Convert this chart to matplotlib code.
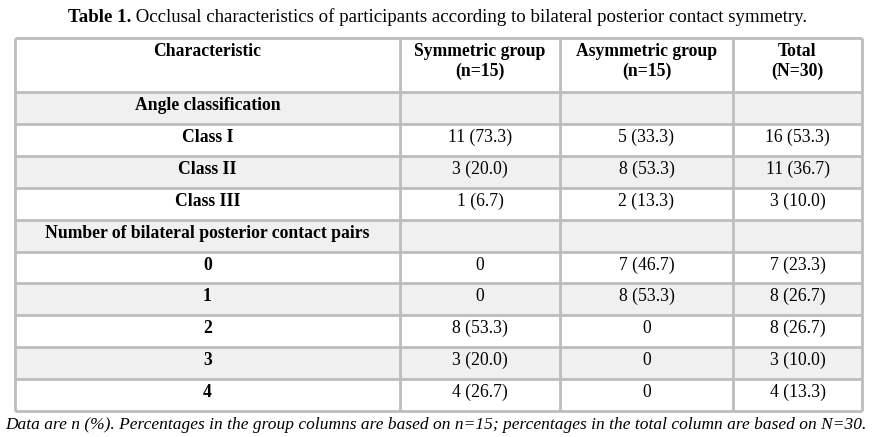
import matplotlib.pyplot as plt
from matplotlib.patches import Rectangle

plt.rcParams['font.family'] = ['Liberation Serif', 'DejaVu Serif']

title_bold = "Table 1."
title_rest = " Occlusal characteristics of participants according to bilateral posterior contact symmetry."
headers = ["Characteristic", "Symmetric group\n(n=15)", "Asymmetric group\n(n=15)", "Total\n(N=30)"]
row_labels = ["Angle classification", "Class I", "Class II", "Class III",
              "Number of bilateral posterior contact pairs", "0", "1", "2", "3", "4"]
symmetric = ["", "11 (73.3)", "3 (20.0)", "1 (6.7)", "", "0", "0", "8 (53.3)", "3 (20.0)", "4 (26.7)"]
asymmetric = ["", "5 (33.3)", "8 (53.3)", "2 (13.3)", "", "7 (46.7)", "8 (53.3)", "0", "0", "0"]
total = ["", "16 (53.3)", "11 (36.7)", "3 (10.0)", "", "7 (23.3)", "8 (26.7)", "8 (26.7)", "3 (10.0)", "4 (13.3)"]
footnote = ("Data are n (%). Percentages in the group columns are based on n=15; "
            "percentages in the total column are based on N=30.")

col_x = [15, 400, 560, 733, 862]
header_top, header_bot = 38, 92
row_h = 31.9
fs = 12.7

fig = plt.figure(figsize=(8.75, 4.37), dpi=100)
ax = fig.add_axes([0, 0, 1, 1])
ax.set_xlim(0, 875)
ax.set_ylim(437, 0)
ax.axis("off")

# row backgrounds (alternating white / light grey)
n = len(row_labels)
for i in range(n):
    y0 = header_bot + i * row_h
    color = "#f0f0f0" if i % 2 == 0 else "white"
    ax.add_patch(Rectangle((col_x[0], y0), col_x[-1] - col_x[0], row_h, facecolor=color, edgecolor="none"))

bottom = header_bot + n * row_h
lc = "#bdbdbd"
for y in [header_top, header_bot] + [header_bot + i * row_h for i in range(1, n + 1)]:
    ax.plot([col_x[0], col_x[-1]], [y, y], color=lc, lw=2, solid_capstyle="butt")
for x in col_x:
    ax.plot([x, x], [header_top, bottom], color=lc, lw=2, solid_capstyle="butt")

centers = [(col_x[i] + col_x[i + 1]) / 2 for i in range(4)]
for c, h in zip(centers, headers):
    for k, line in enumerate(h.split("\n")):
        ax.text(c, header_top + 18 + k * 20, line, ha="center", va="baseline",
                fontsize=fs, fontweight="bold")

for i in range(n):
    yb = header_bot + i * row_h + 18
    ax.text(centers[0], yb, row_labels[i], ha="center", va="baseline", fontsize=fs, fontweight="bold")
    for j, vals in enumerate([symmetric, asymmetric, total]):
        ax.text(centers[j + 1], yb, vals[i], ha="center", va="baseline", fontsize=fs)

# title: bold prefix + regular text, centred together
r = fig.canvas.get_renderer()
t1 = ax.text(0, 22, title_bold, fontsize=13.6, fontweight="bold", va="baseline")
t2 = ax.text(0, 22, title_rest, fontsize=13.6, va="baseline")
w1 = t1.get_window_extent(r).width
w2 = t2.get_window_extent(r).width
start = (875 - w1 - w2) / 2
t1.set_x(start)
t2.set_x(start + w1)

ax.text(5, 429, footnote, fontsize=12.5, style="italic", va="baseline")

fig.savefig("out.png", dpi=100)
